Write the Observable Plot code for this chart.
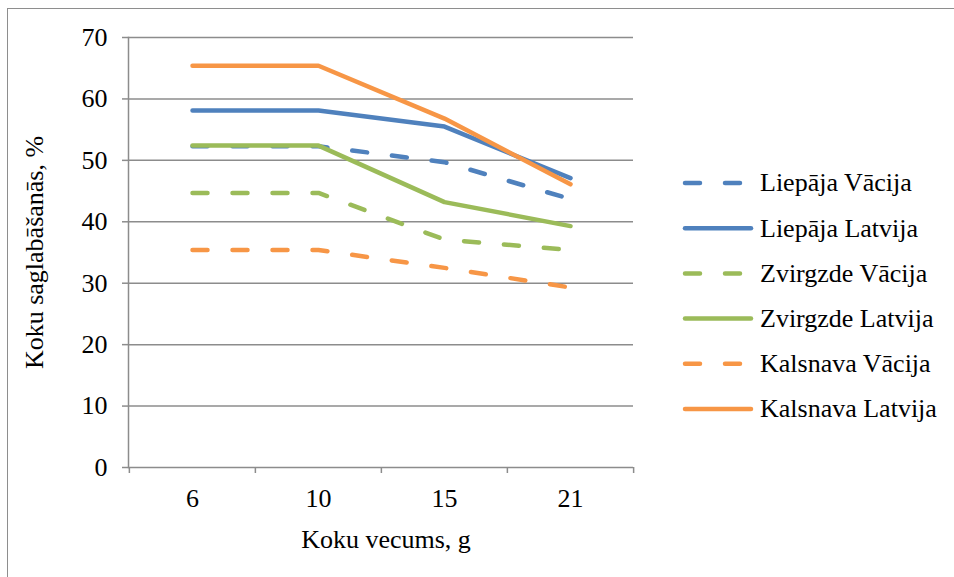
<!DOCTYPE html>
<html>
<head>
<meta charset="utf-8">
<script src="https://cdn.jsdelivr.net/npm/d3@7"></script>
<script src="https://cdn.jsdelivr.net/npm/@observablehq/plot@0.6"></script>
<style>
  html, body { margin: 0; padding: 0; background: #fff; overflow: hidden; }
  #wrap { position: relative; width: 954px; height: 577px; overflow: hidden; }
  #border { position: absolute; left: 7px; top: 8px; width: 1000px; height: 700px;
            border: 1.5px solid #8e8e8e; box-sizing: border-box; }
  #chart, #legend { position: absolute; left: 0; top: 0; }
</style>
</head>
<body>
<div id="wrap">
  <div id="border"></div>
  <div id="chart"></div>
  <svg id="legend" width="954" height="577"></svg>
</div>
<script>
// Tree age groups (years) and survival (%) per site and seed origin
const ages = ["6", "10", "15", "21"];
const seriesNames = [
  "Liepāja Vācija", "Liepāja Latvija",
  "Zvirgzde Vācija", "Zvirgzde Latvija",
  "Kalsnava Vācija", "Kalsnava Latvija"
];
const liepajaVacija   = [52.3, 52.3, 49.7, 43.7];
const liepajaLatvija  = [58.1, 58.1, 55.5, 47.1];
const zvirgzdeVacija  = [44.7, 44.7, 37.1, 35.4];
const zvirgzdeLatvija = [52.4, 52.4, 43.2, 39.3];
const kalsnavaVacija  = [35.4, 35.4, 32.5, 29.3];
const kalsnavaLatvija = [65.4, 65.4, 56.8, 46.1];
const seriesValues = [liepajaVacija, liepajaLatvija, zvirgzdeVacija, zvirgzdeLatvija, kalsnavaVacija, kalsnavaLatvija];
const seriesColors = ["#4f81bd", "#4f81bd", "#9bbb59", "#9bbb59", "#f79646", "#f79646"];
const seriesDashed = [true, false, true, false, true, false];
const yTicks = [0, 10, 20, 30, 40, 50, 60, 70];

const xTitle = "Koku vecums, g";
const yTitle = "Koku saglabāšanās, %";

// Long table for the line marks
const rows = seriesNames.flatMap((name, s) =>
  ages.map((age, i) => ({series: name, age, value: seriesValues[s][i]})));

const font = "Liberation Serif, Times New Roman, Times, DejaVu Serif, serif";
const gray = "#8c8c8c";
const width = 954, height = 577;
const marginLeft = 128, marginRight = 321, marginTop = 37, marginBottom = 110;
const step = (width - marginLeft - marginRight) / ages.length;
const dash = "15,25";

const lines = seriesNames.map((name, s) =>
  Plot.line(rows.filter(d => d.series === name), {
    x: "age", y: "value",
    stroke: seriesColors[s],
    strokeWidth: 4.5,
    strokeDasharray: seriesDashed[s] ? dash : null,
    strokeLinecap: "round",
    strokeLinejoin: "round"
  }));

const chart = Plot.plot({
  width, height, marginLeft, marginRight, marginTop, marginBottom,
  style: {fontFamily: font, fontSize: "26px", color: "#000", background: "transparent", overflow: "visible"},
  x: {type: "point", domain: ages, padding: 0.5, axis: null},
  y: {domain: [0, 70], axis: null},
  marks: [
    Plot.gridY(yTicks, {stroke: gray, strokeOpacity: 1, strokeWidth: 1.5}),
    Plot.frame({anchor: "left", stroke: gray, strokeWidth: 1.5}),
    // category separators below the baseline
    Plot.axisX(ages, {tickSize: 6, dx: -step / 2, tickFormat: () => "", stroke: gray, strokeWidth: 1.5, label: null}),
    Plot.axisX([ages[ages.length - 1]], {tickSize: 6, dx: step / 2, tickFormat: () => "", stroke: gray, strokeWidth: 1.5, label: null}),
    Plot.axisX(ages, {tickSize: 0, tickPadding: 21.5, fontSize: 26, fill: "#000", label: null}),
    Plot.axisY(yTicks, {tickSize: 6, tickPadding: 15, stroke: gray, strokeWidth: 1.5, fontSize: 26, fill: "#000", label: null}),
    ...lines,
    Plot.text([xTitle], {frameAnchor: "bottom", dx: 5, dy: 72, lineAnchor: "middle", fontSize: 26, fill: "#000"}),
    Plot.text([yTitle], {frameAnchor: "left", textAnchor: "middle", rotate: -90, dx: -94, lineAnchor: "middle", fontSize: 26, fill: "#000"})
  ]
});
document.getElementById("chart").appendChild(chart);

// Legend on the right
const legend = d3.select("#legend");
const rowY = i => 183 + i * 45.2;
const item = legend.selectAll("g").data(seriesNames).join("g")
  .attr("transform", (d, i) => `translate(0,${rowY(i)})`);
item.append("line")
  .attr("x1", 685).attr("x2", 751).attr("y1", 0).attr("y2", 0)
  .attr("stroke", (d, i) => seriesColors[i])
  .attr("stroke-width", 4.5)
  .attr("stroke-linecap", "round")
  .attr("stroke-dasharray", (d, i) => seriesDashed[i] ? dash : null);
item.append("text")
  .attr("x", 760).attr("dy", "0.32em")
  .attr("font-family", font).attr("font-size", 26)
  .text(d => d);
</script>
</body>
</html>
